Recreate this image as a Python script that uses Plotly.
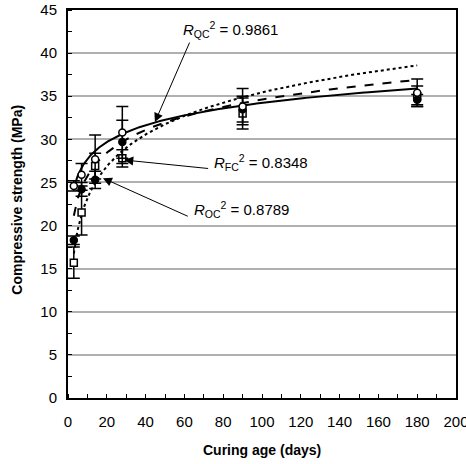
import numpy as np
import plotly.graph_objects as go

# ---- data ----
days = [3, 7, 14, 28, 90, 180]
qc_strength = [24.6, 25.9, 27.7, 30.8, 33.8, 35.4]   # open circles
qc_err = [0.6, 1.3, 2.8, 3.0, 2.1, 1.6]
fc_strength = [15.7, 21.5, 26.9, 27.8, 33.0, 35.0]   # open squares
fc_err = [1.8, 2.6, 1.5, 1.0, 1.8, 1.2]
oc_strength = [18.3, 24.2, 25.3, 29.7, 33.5, 34.6]   # filled circles
oc_err = [0.5, 0.8, 1.0, 2.5, 1.5, 0.6]

# logarithmic trendlines y = a*ln(x) + b
trend_names = ["QC", "FC", "OC"]
trend_a = [2.83, 3.85, 5.33]
trend_b = [21.2, 16.9, 10.9]
trend_r2 = ["0.9861", "0.8348", "0.8789"]

x_ticks = list(range(0, 201, 20))
y_ticks = list(range(0, 46, 5))

fig = go.Figure()

dashes = ["solid", "dash", "dot"]
xs = np.linspace(3, 180, 300)
for a, b, d in zip(trend_a, trend_b, dashes):
    fig.add_trace(go.Scatter(x=xs, y=a * np.log(xs) + b, mode="lines",
                             line=dict(color="black", width=2, dash=d),
                             showlegend=False, hoverinfo="skip"))

def pts(y, err, symbol, fill):
    fig.add_trace(go.Scatter(
        x=days, y=y, mode="markers",
        marker=dict(symbol=symbol, size=7, color=fill,
                    line=dict(color="black", width=1.5)),
        error_y=dict(type="data", array=err, visible=True, color="black",
                     thickness=1.5, width=6),
        showlegend=False))

pts(fc_strength, fc_err, "square", "white")
pts(oc_strength, oc_err, "circle", "black")
pts(qc_strength, qc_err, "circle", "white")

font_ann = dict(family="Arial, Liberation Sans, sans-serif", size=15, color="black")

labels = [
    # text x, text y, tail x, tail y, head x, head y
    (58, 42.7, 63.0, 41.4, 44.8, 32.0),
    (74, 27.3, 73.0, 26.6, 29.0, 27.6),
    (64, 21.9, 62.5, 21.0, 18.0, 25.5),
]
for name, r2, (tx, ty, ax_, ay_, hx, hy) in zip(trend_names, trend_r2, labels):
    fig.add_annotation(x=hx, y=hy, ax=ax_, ay=ay_, axref="x", ayref="y",
                       xref="x", yref="y", text="", showarrow=True,
                       arrowhead=2, arrowsize=1.8, arrowwidth=1, arrowcolor="black")
    fig.add_annotation(x=tx, y=ty, xref="x", yref="y", xanchor="left", yanchor="middle",
                       text=f"<i>R</i><sub>{name}</sub><sup>2</sup> = {r2}",
                       showarrow=False, font=font_ann)

axis_font = dict(family="Arial, Liberation Sans, sans-serif", size=15, color="black")
title_font = dict(family="Arial, Liberation Sans, sans-serif", size=14, color="black")

# axis titles as paper annotations for precise placement
fig.add_annotation(x=0.5, y=-0.135, xref="paper", yref="paper", xanchor="center", yanchor="middle",
                   text="<b>Curing age (days)</b>", showarrow=False, font=title_font)
fig.add_annotation(x=-0.13, y=0.51, xref="paper", yref="paper", xanchor="center", yanchor="middle",
                   text="<b>Compressive strength (MPa)</b>", showarrow=False, font=title_font,
                   textangle=-90)

fig.update_layout(
    width=466, height=464,
    margin=dict(l=68, r=10, t=10, b=66, autoexpand=False),
    paper_bgcolor="white", plot_bgcolor="white",
    font=axis_font,
    xaxis=dict(range=[0, 200], tickvals=x_ticks, showgrid=False, automargin=False,
               ticklabeloverflow="allow",
               showline=True, linecolor="black", linewidth=2, mirror=True,
               ticks="outside", ticklen=9, tickcolor="rgba(0,0,0,0)", zeroline=False,
               minor=dict(dtick=10, ticks="inside", ticklen=4, tickcolor="black")),
    yaxis=dict(range=[0, 45], tickvals=y_ticks, showgrid=True, automargin=False,
               ticklabeloverflow="allow",
               gridcolor="#b0b0b0", gridwidth=1.5,
               showline=True, linecolor="black", linewidth=2, mirror=True,
               ticks="outside", ticklen=6, tickcolor="rgba(0,0,0,0)", zeroline=False,
               minor=dict(dtick=2.5, ticks="inside", ticklen=4, tickcolor="black", showgrid=False)),
)

fig.write_html("out.html",
               post_script="document.body.style.margin='0';document.body.style.overflow='hidden';")
